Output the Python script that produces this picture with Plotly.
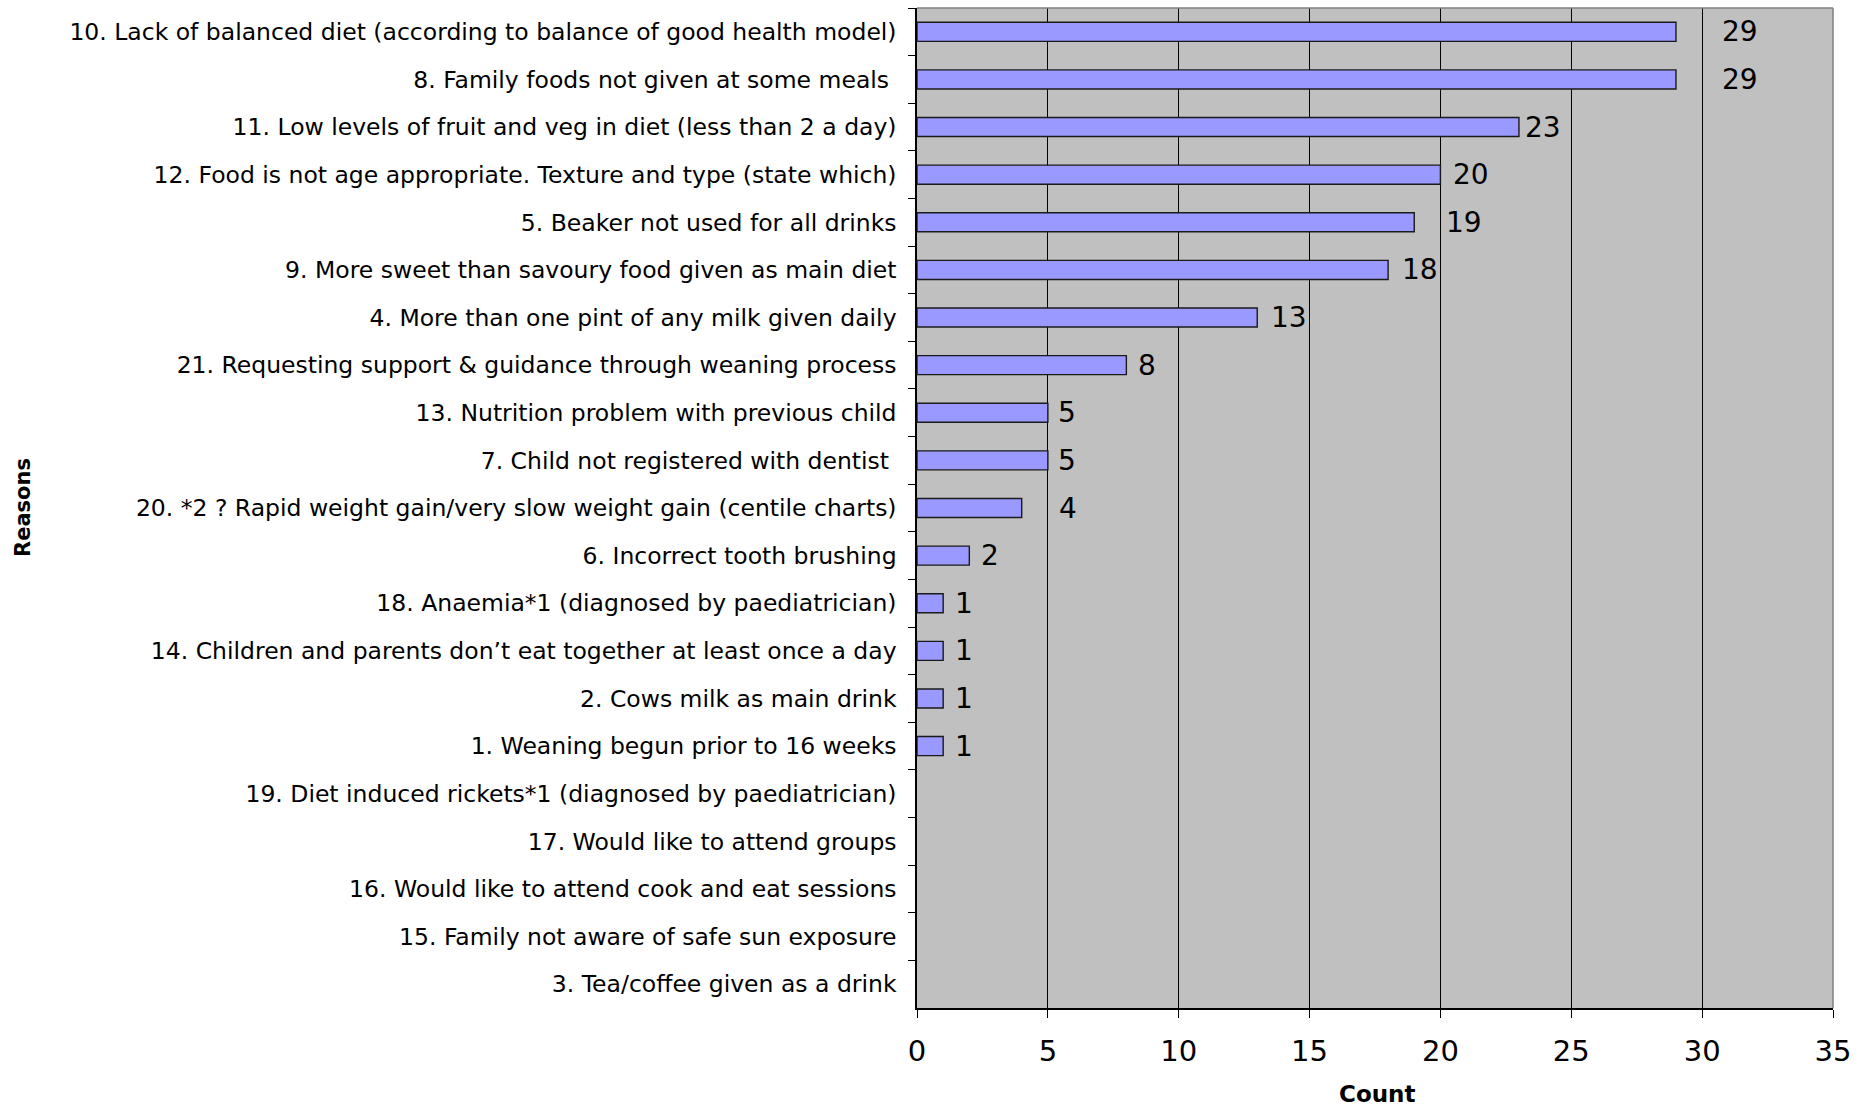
import plotly.graph_objects as go

# Reasons for referral, listed top to bottom
reasons = [
    "10. Lack of balanced diet (according to balance of good health model)",
    "8. Family foods not given at some meals ",
    "11. Low levels of fruit and veg in diet (less than 2 a day)",
    "12. Food is not age appropriate. Texture and type (state which)",
    "5. Beaker not used for all drinks",
    "9. More sweet than savoury food given as main diet",
    "4. More than one pint of any milk given daily",
    "21. Requesting support & guidance through weaning process",
    "13. Nutrition problem with previous child",
    "7. Child not registered with dentist ",
    "20. *2 ? Rapid weight gain/very slow weight gain (centile charts)",
    "6. Incorrect tooth brushing",
    "18. Anaemia*1 (diagnosed by paediatrician)",
    "14. Children and parents don\u2019t eat together at least once a day",
    "2. Cows milk as main drink",
    "1. Weaning begun prior to 16 weeks",
    "19. Diet induced rickets*1 (diagnosed by paediatrician)",
    "17. Would like to attend groups",
    "16. Would like to attend cook and eat sessions",
    "15. Family not aware of safe sun exposure",
    "3. Tea/coffee given as a drink",
]
counts = [29, 29, 23, 20, 19, 18, 13, 8, 5, 5, 4, 2, 1, 1, 1, 1, 0, 0, 0, 0, 0]
x_ticks = [0, 5, 10, 15, 20, 25, 30, 35]

# Horizontal gap (px) between each bar end and its value label
label_gaps = [44, 44, 4, 11, 30, 12, 12, 10, 8, 8, 35, 10, 10, 10, 10, 10, 0, 0, 0, 0, 0]

FONT = "DejaVu Sans, Verdana, sans-serif"

fig = go.Figure(
    go.Bar(
        x=counts,
        y=reasons,
        orientation="h",
        marker=dict(
            color="#9999FF",
            line=dict(color="#1a1a1a", width=[1.4 if c > 0 else 0 for c in counts]),
        ),
        width=0.4,
        hoverinfo="x+y",
    )
)

# Value labels to the right of each non-empty bar
for reason, count, gap in zip(reasons, counts, label_gaps):
    if count > 0:
        fig.add_annotation(
            x=count, y=reason, xref="x", yref="y",
            text=str(count), showarrow=False,
            xanchor="left", yanchor="middle", xshift=gap,
            font=dict(family=FONT, size=28, color="#000000"),
        )

fig.update_layout(
    width=1872,
    height=1110,
    margin=dict(l=917, r=39, t=8, b=102),
    paper_bgcolor="#FFFFFF",
    plot_bgcolor="#C0C0C0",
    showlegend=False,
    font=dict(family=FONT, color="#000000"),
)

fig.update_xaxes(
    range=[0, 35],
    tickvals=x_ticks,
    ticktext=[str(v) for v in x_ticks],
    tickfont=dict(family=FONT, size=29, color="#000000"),
    ticks="outside",
    ticklen=8,
    tickcolor="#000000",
    ticklabelstandoff=8,
    showgrid=True,
    gridcolor="#000000",
    gridwidth=1,
    showline=True,
    linecolor="#000000",
    linewidth=1.5,
    zeroline=False,
)

fig.update_yaxes(
    type="category",
    autorange="reversed",
    tickson="boundaries",
    ticks="outside",
    ticklen=7,
    tickcolor="#000000",
    ticklabelstandoff=14,
    tickfont=dict(family=FONT, size=23.5, color="#000000"),
    showgrid=False,
    showline=True,
    linecolor="#000000",
    linewidth=1.5,
    zeroline=False,
)

# Axis titles
fig.add_annotation(
    xref="paper", yref="paper", x=(1377 - 917) / 916, y=-(1094 - 1008) / 1000,
    text="<b>Count</b>", showarrow=False, xanchor="center", yanchor="middle",
    font=dict(family=FONT, size=23, color="#000000"),
)
fig.add_annotation(
    xref="paper", yref="paper", x=(23 - 917) / 916, y=0.5,
    text="<b>Reasons</b>", showarrow=False, textangle=-90,
    xanchor="center", yanchor="middle",
    font=dict(family=FONT, size=21, color="#000000"),
)

# Grey frame along the top and right edges of the plotting area
fig.add_shape(type="line", xref="paper", yref="paper", x0=0, x1=1, y0=1, y1=1,
              line=dict(color="#808080", width=1.5), layer="above")
fig.add_shape(type="line", xref="paper", yref="paper", x0=1, x1=1, y0=0, y1=1,
              line=dict(color="#808080", width=1.5), layer="above")

fig.write_html("out.html")
